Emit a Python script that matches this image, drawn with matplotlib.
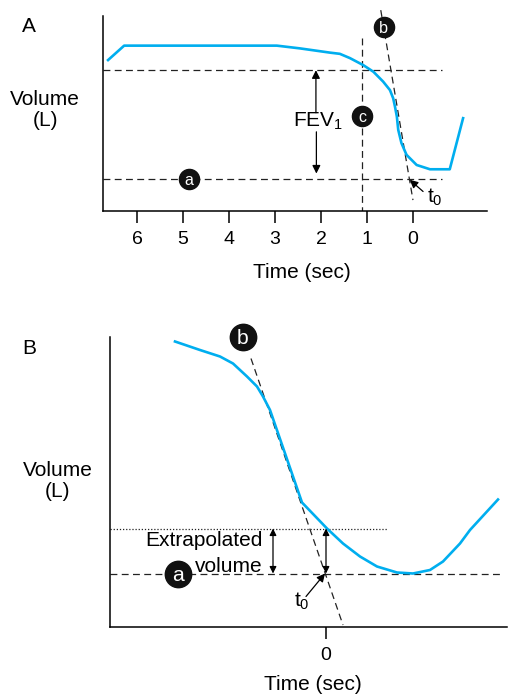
import matplotlib
matplotlib.use("Agg")
import matplotlib.pyplot as plt

plt.rcParams['font.family'] = ['Liberation Sans', 'DejaVu Sans']
plt.rcParams['mathtext.default'] = 'regular'

CYAN = '#00aeef'

# ---- panel A data (time in sec, counted backwards; volume in L, arbitrary)
a_time = [6.63, 6.28, 2.96, 2.46, 1.80, 1.59, 1.37, 1.08, 0.86, 0.65, 0.50,
          0.43, 0.39, 0.35, 0.32, 0.25, 0.14, -0.08, -0.37, -0.80, -1.09]
a_vol = [3.87, 4.24, 4.24, 4.17, 4.06, 4.03, 3.92, 3.74, 3.57, 3.32, 3.10,
         2.89, 2.67, 2.42, 2.08, 1.74, 1.44, 1.18, 1.07, 1.07, 2.38]
a_ticks = [6, 5, 4, 3, 2, 1, 0]
a_fev_top = 3.61      # upper dashed level
a_level = 0.83        # lower dashed level (a)
a_one_sec = 1.11      # vertical dashed line (c)
a_tangent_t = [0.70, 0.0]
a_tangent_v = [5.15, 0.28]

# ---- panel B data
b_time = [-1.51, -1.26, -1.06, -0.93, -0.79, -0.69, -0.63, -0.56, -0.24,
          0.01, 0.17, 0.34, 0.51, 0.71, 0.87, 1.04, 1.17, 1.34, 1.44, 1.72]
b_vol = [5.71, 5.54, 5.41, 5.27, 5.01, 4.81, 4.61, 4.34, 2.49,
         1.97, 1.67, 1.41, 1.21, 1.09, 1.07, 1.14, 1.31, 1.67, 1.94, 2.55]
b_ticks = [0]
b_extrap_top = 1.97
b_level = 1.07
b_tangent_t = [-0.75, 0.17]
b_tangent_v = [5.37, 0.04]

W, H = 508, 696


def box(l, t, r, b):
    return [l / W, 1 - b / H, (r - l) / W, (b - t) / H]


def px(x, y):
    return x / W, 1 - y / H


def style_axes(ax):
    for s in ['top', 'right']:
        ax.spines[s].set_visible(False)
    for s in ['left', 'bottom']:
        ax.spines[s].set_linewidth(1.1)
    ax.set_yticks([])
    ax.tick_params(axis='x', direction='out', length=8.5, width=1.1,
                   labelsize=14, pad=6)


def circle(ax, x, y, letter, size):
    ax.plot([x], [y], 'o', ms=size, color='#111111', zorder=5, clip_on=False)
    ax.text(x, y, letter, color='white', ha='center', va='center_baseline',
            fontsize=size * 0.8, zorder=6, clip_on=False)


dash = (0, (5.5, 3.5))

fig = plt.figure(figsize=(W / 100, H / 100), dpi=100)

# ================= panel A
ax = fig.add_axes(box(103, 16, 487, 211))
style_axes(ax)
ax.set_xlim(6.74, -1.61)
ax.set_ylim(0, 5)
ax.set_xticks(a_ticks)
ax.set_xticklabels([str(t) for t in a_ticks])

ax.plot(a_time, a_vol, color=CYAN, lw=1.9, zorder=3)
ax.plot([6.74, -0.63], [a_fev_top, a_fev_top], color='#222222', lw=0.9, ls=dash)
ax.plot([6.74, -0.63], [a_level, a_level], color='#222222', lw=0.9, ls=dash)
ax.plot([a_one_sec, a_one_sec], [4.44, 0], color='#222222', lw=0.9, ls=dash)
ax.plot(a_tangent_t, a_tangent_v, color='#222222', lw=0.9, ls=dash, clip_on=False)

circle(ax, 0.64, 4.72, 'b', 14.5)
circle(ax, a_one_sec, 2.44, 'c', 14.5)
circle(ax, 4.87, a_level, 'a', 14.5)

ax.text(2.07, 2.30, 'FEV$_1$', ha='center', va='center', fontsize=15)
arr = dict(arrowstyle='-|>', color='black', lw=0.9, mutation_scale=12,
           shrinkA=0, shrinkB=0)
ax.annotate('', xy=(2.11, a_fev_top), xytext=(2.11, 2.52), arrowprops=arr)
ax.annotate('', xy=(2.10, 0.96), xytext=(2.10, 2.03), arrowprops=arr)
ax.annotate('', xy=(0.07, 0.80), xytext=(-0.22, 0.50), arrowprops=arr)
ax.text(-0.30, 0.36, 't$_0$', ha='left', va='center', fontsize=15)

fig.text(*px(29, 27), 'A', ha='center', va='center', fontsize=15)
fig.text(*px(45, 110), 'Volume\n(L)', ha='center', va='center', fontsize=15,
         linespacing=1.15)
fig.text(*px(302, 272), 'Time (sec)', ha='center', va='center', fontsize=15)

# ================= panel B
ax = fig.add_axes(box(110, 337, 507, 627))
style_axes(ax)
ax.set_xlim(-2.16, 1.81)
ax.set_ylim(0, 5.8)
ax.set_xticks(b_ticks)
ax.set_xticklabels([str(t) for t in b_ticks])

ax.plot(b_time, b_vol, color=CYAN, lw=1.9, zorder=3)
ax.plot([-2.16, 0.61], [b_extrap_top, b_extrap_top], color='#222222', lw=0.9,
        ls=(0, (1, 1.5)))
ax.plot([-2.16, 1.76], [b_level, b_level], color='#222222', lw=0.9, ls=dash)
ax.plot(b_tangent_t, b_tangent_v, color='#222222', lw=0.9, ls=dash)

circle(ax, -0.83, 5.81, 'b', 19)
circle(ax, -1.48, b_level, 'a', 19)

arr2 = dict(arrowstyle='<|-|>', color='black', lw=0.9, mutation_scale=10,
            shrinkA=0, shrinkB=0)
ax.annotate('', xy=(-0.53, b_level), xytext=(-0.53, b_extrap_top), arrowprops=arr2)
ax.annotate('', xy=(0.0, b_level), xytext=(0.0, b_extrap_top), arrowprops=arr2)
ax.text(-0.63, 1.72, 'Extrapolated', ha='right', va='center', fontsize=15)
ax.text(-0.63, 1.22, 'volume', ha='right', va='center', fontsize=15)
ax.annotate('', xy=(-0.01, b_level), xytext=(-0.20, 0.61), arrowprops=arr)
ax.text(-0.24, 0.51, 't$_0$', ha='center', va='center', fontsize=15)

fig.text(*px(29, 348), 'B', ha='center', va='center', fontsize=15)
fig.text(*px(58, 481), 'Volume\n(L)', ha='center', va='center', fontsize=15,
         linespacing=1.15)
fig.text(*px(313, 685), 'Time (sec)', ha='center', va='center', fontsize=15)

fig.savefig('out.png', dpi=100)
